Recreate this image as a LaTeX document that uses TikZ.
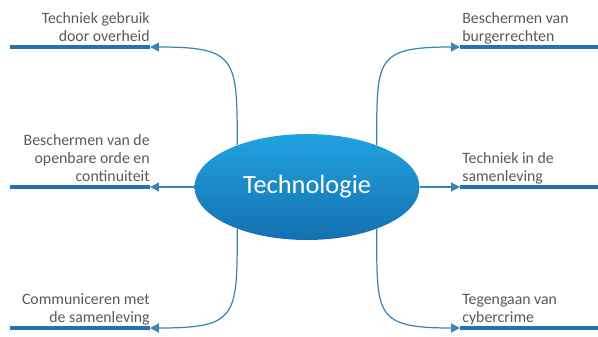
\documentclass[tikz,border=0pt]{standalone}
\usepackage{fontspec}
\setmainfont{Carlito}
\usepackage{xcolor}
\usetikzlibrary{positioning, arrows.meta, shapes.geometric}

\definecolor{barblue}{HTML}{2473AD}
\definecolor{lineblue}{HTML}{3A85B4}
\definecolor{toptone}{HTML}{22A2E0}
\definecolor{bottomtone}{HTML}{1470B0}
\definecolor{labelgray}{HTML}{595959}

\tikzset{
    bar/.style={rectangle, fill=barblue, inner sep=0pt, outer sep=0pt, minimum height=0.08cm},
    lbl/.style={inner sep=0pt, text depth=0pt, text=labelgray, font=\fontsize{9}{10.4}\selectfont},
    conn/.style={draw=lineblue, line width=0.7pt, -{Triangle[length=5pt, width=5pt]}},
    hub/.style={ellipse, top color=toptone, bottom color=bottomtone, draw=none, inner sep=0pt,
        minimum width=4.5cm, minimum height=2.12cm, text=white, font=\fontsize{15}{18}\selectfont}
}

\begin{document}
\begin{tikzpicture}[x=0.02cm, y=0.02cm]
        \useasboundingbox (0,0) rectangle (598,336);

        %% Centre
        \node (tech) [hub] at (307,149) {Technologie};

        %% Bars
        \node (barTL) [bar, anchor=east, minimum width=2.8cm] at (150,289) {};
        \node (barML) [bar, anchor=east, minimum width=2.8cm] at (150,149) {};
        \node (barBL) [bar, anchor=east, minimum width=2.8cm] at (150,8) {};
        \node (barTR) [bar, anchor=west, minimum width=2.76cm] at (460,289) {};
        \node (barMR) [bar, anchor=west, minimum width=2.76cm] at (460,149) {};
        \node (barBR) [bar, anchor=west, minimum width=2.76cm] at (460,8) {};

        %% Labels
        \node (lblTL) [lbl, align=right, above left=0.06cm and 0cm of barTL.north east] {Techniek gebruik\\door overheid};
        \node (lblML) [lbl, align=right, above left=0.06cm and 0cm of barML.north east] {Beschermen van de\\openbare orde en\\continuiteit};
        \node (lblBL) [lbl, align=right, above left=0.06cm and 0cm of barBL.north east] {Communiceren met\\de samenleving};
        \node (lblTR) [lbl, align=left, above right=0.06cm and 0.04cm of barTR.north west] {Beschermen van\\burgerrechten};
        \node (lblMR) [lbl, align=left, above right=0.06cm and 0.04cm of barMR.north west] {Techniek in de\\samenleving};
        \node (lblBR) [lbl, align=left, above right=0.06cm and 0.04cm of barBR.north west] {Tegengaan van\\cybercrime};

        %% Arrows
        \draw [conn] (tech.149) to [out=90, in=0, looseness=1.7] (barTL.east);
        \draw [conn] (tech.west) -- (barML.east);
        \draw [conn] (tech.211) to [out=-90, in=0, looseness=1.7] (barBL.east);
        \draw [conn] (tech.31) to [out=90, in=180, looseness=1.7] (barTR.west);
        \draw [conn] (tech.east) -- (barMR.west);
        \draw [conn] (tech.329) to [out=-90, in=180, looseness=1.7] (barBR.west);

    \end{tikzpicture}
\end{document}
